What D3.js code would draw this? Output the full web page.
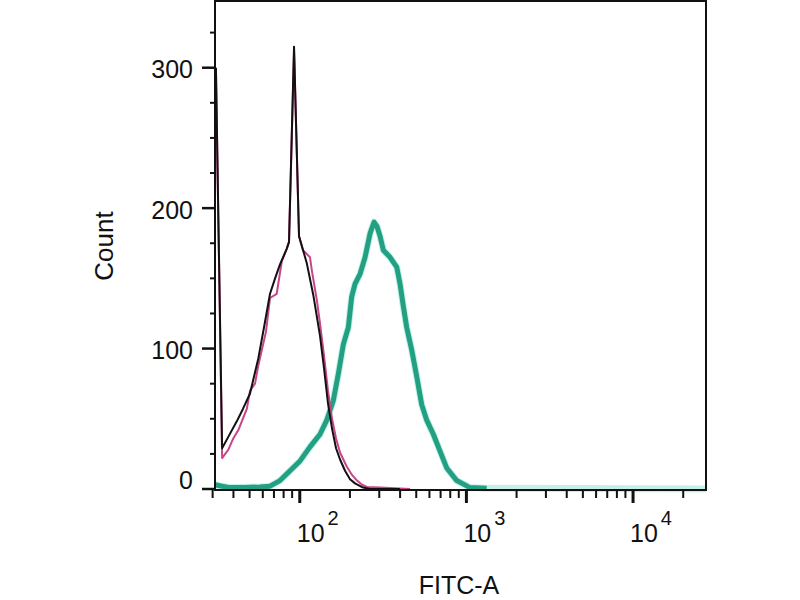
<!DOCTYPE html>
<html lang="en">
<head>
    <meta charset="UTF-8">
    <title>FITC-A histogram overlay</title>
    <script src="https://d3js.org/d3.v7.min.js"></script>
    <style>
        body {
            margin: 0;
            background-color: #ffffff;
        }
        svg text {
            font-family: "Liberation Sans", Arial, sans-serif;
            fill: #111;
        }
    </style>
</head>
<body>
    <div id="chart"></div>

    <script>
        // Black histogram (FITC-A value, count)
        const blackFitc = [31.4, 34.2, 37.6, 41.8, 45.6, 50.3, 56.4, 61.0, 66.3, 71.1, 76.1, 83.5, 86.2, 92.4,
            99.0, 110.1, 120.6, 132.3, 139.8, 147.7, 156.2, 165.1, 174.5, 186.9, 200.3, 214.6, 239.8, 264.2, 399.8];
        const blackCount = [300, 29, 38, 48, 57, 68, 93, 115, 139, 150, 160, 171, 176, 315,
            180, 161, 138, 109, 86, 61, 43, 29, 21, 13, 7, 4, 1, 0, 0];

        // Pink histogram
        const pinkFitc = [31.4, 34.2, 37.3, 39.9, 42.8, 48.1, 50.3, 53.9, 56.4, 62.7, 66.3, 72.7, 78.0, 83.5,
            86.2, 92.4, 99.0, 104.6, 115.2, 118.4, 126.4, 132.3, 139.8, 147.7, 156.2, 165.1, 174.5, 191.3,
            205.9, 220.7, 236.5, 253.3, 303.3, 373.1, 459.2];
        const pinkCount = [300, 22, 28, 36, 42, 57, 70, 75, 88, 112, 136, 139, 162, 171,
            176, 312, 180, 170, 165, 155, 135, 118, 95, 70, 50, 36, 26, 16,
            10, 6, 3, 1.5, 1, 0.5, 0];

        // Green histogram
        const greenFitc = [31.0, 34.2, 38.1, 46.9, 57.7, 66.3, 76.1, 87.4, 100.4, 115.2, 132.3, 145.2, 159.0,
            170.4, 182.6, 195.6, 205.0, 214.6, 229.9, 246.5, 264.2, 279.2, 290.9, 303.3, 317.4, 348.3, 382.0,
            399.8, 418.4, 438.4, 469.8, 503.4, 539.4, 578.0, 633.3, 694.2, 761.5, 874.7, 1051, 1324, 27400];
        const greenCount = [3, 2, 1, 1, 1.5, 2, 6, 13, 20, 30, 39, 49, 63,
            82, 103, 115, 137, 146, 153, 165, 182, 190, 187, 180, 170, 165, 158,
            146, 130, 115, 99, 80, 60, 49, 39, 27, 15, 6, 1, 0.5, 0];

        const yTicks = [0, 100, 200, 300];
        const yMinorTicks = [25, 50, 75, 125, 150, 175, 225, 250, 275, 325];
        const xMajorTicks = [100, 1000, 10000];
        const xExponents = ["2", "3", "4"];
        const xMinorTicks = [30, 40, 50, 60, 70, 80, 90, 200, 300, 400, 500, 600, 700, 800, 900,
            2000, 3000, 4000, 5000, 6000, 7000, 8000, 9000, 20000];

        const width = 800, height = 600;
        const margin = { top: 1, right: 94, bottom: 111, left: 215 };

        const svg = d3.select("#chart")
            .append("svg")
            .attr("width", width)
            .attr("height", height);

        const x = d3.scaleLog()
            .domain([31, 27400])
            .range([margin.left, width - margin.right]);

        const y = d3.scaleLinear()
            .domain([0, 347.5])
            .range([height - margin.bottom, margin.top]);

        const axisY = height - margin.bottom + 1;

        // Curves
        function toPoints(xs, ys) {
            return xs.map((v, i) => [v, ys[i]]);
        }

        const line = d3.line()
            .x(d => x(d[0]))
            .y(d => y(d[1]));

        // the solid green stops where the counts die out, only its pale edge runs on along the baseline
        const greenLine = d3.line()
            .defined(d => d[0] <= 1400)
            .x(d => x(d[0]))
            .y(d => y(d[1]));

        const plot = svg.append("g");

        plot.append("path")
            .datum(toPoints(greenFitc, greenCount))
            .attr("fill", "none")
            .attr("stroke", "#c4f0ea")
            .attr("stroke-width", 7)
            .attr("stroke-linejoin", "round")
            .attr("d", line);

        plot.append("path")
            .datum(toPoints(greenFitc, greenCount))
            .attr("fill", "none")
            .attr("stroke", "#22a081")
            .attr("stroke-width", 5)
            .attr("stroke-linejoin", "round")
            .attr("d", greenLine);

        plot.append("path")
            .datum(toPoints(pinkFitc, pinkCount))
            .attr("fill", "none")
            .attr("stroke", "#c8458a")
            .attr("stroke-width", 2)
            .attr("stroke-linejoin", "round")
            .attr("d", line);

        plot.append("path")
            .datum(toPoints(blackFitc, blackCount))
            .attr("fill", "none")
            .attr("stroke", "#141012")
            .attr("stroke-width", 2)
            .attr("stroke-linejoin", "round")
            .attr("d", line);

        // Frame
        svg.append("rect")
            .attr("x", margin.left)
            .attr("y", margin.top)
            .attr("width", width - margin.right - margin.left)
            .attr("height", axisY - margin.top)
            .attr("fill", "none")
            .attr("stroke", "#111")
            .attr("stroke-width", 2);

        // Y axis ticks
        svg.append("g")
            .selectAll("line")
            .data(yTicks)
            .enter().append("line")
            .attr("x1", margin.left - 13)
            .attr("x2", margin.left)
            .attr("y1", d => y(d))
            .attr("y2", d => y(d))
            .attr("stroke", "#111")
            .attr("stroke-width", 2.5);

        svg.append("g")
            .selectAll("line")
            .data(yMinorTicks)
            .enter().append("line")
            .attr("x1", margin.left - 5)
            .attr("x2", margin.left)
            .attr("y1", d => y(d))
            .attr("y2", d => y(d))
            .attr("stroke", "#111")
            .attr("stroke-width", 2);

        svg.append("g")
            .selectAll("text")
            .data(yTicks)
            .enter().append("text")
            .attr("x", margin.left - 22)
            .attr("y", d => d === 0 ? y(d) : y(d) + 10.5)
            .attr("text-anchor", "end")
            .style("font-size", "25px")
            .text(d => d);

        // X axis ticks
        svg.append("g")
            .selectAll("line")
            .data(xMajorTicks)
            .enter().append("line")
            .attr("x1", d => x(d))
            .attr("x2", d => x(d))
            .attr("y1", axisY)
            .attr("y2", axisY + 13)
            .attr("stroke", "#111")
            .attr("stroke-width", 3);

        svg.append("g")
            .selectAll("line")
            .data(xMinorTicks)
            .enter().append("line")
            .attr("x1", d => x(d))
            .attr("x2", d => x(d))
            .attr("y1", axisY)
            .attr("y2", axisY + 8)
            .attr("stroke", "#111")
            .attr("stroke-width", 2);

        const xLabels = svg.append("g")
            .selectAll("text")
            .data(xMajorTicks)
            .enter().append("text")
            .attr("x", d => x(d) - 3)
            .attr("y", 542)
            .attr("text-anchor", "start")
            .style("font-size", "25px");

        xLabels.append("tspan").text("10");
        xLabels.append("tspan")
            .attr("dx", 3)
            .attr("dy", -17)
            .style("font-size", "20px")
            .text((d, i) => xExponents[i]);

        // Axis titles
        svg.append("text")
            .attr("x", 459)
            .attr("y", 594)
            .attr("text-anchor", "middle")
            .style("font-size", "25px")
            .text("FITC-A");

        svg.append("text")
            .attr("transform", "translate(113,246) rotate(-90)")
            .attr("text-anchor", "middle")
            .style("font-size", "26px")
            .text("Count");
    </script>
</body>
</html>
